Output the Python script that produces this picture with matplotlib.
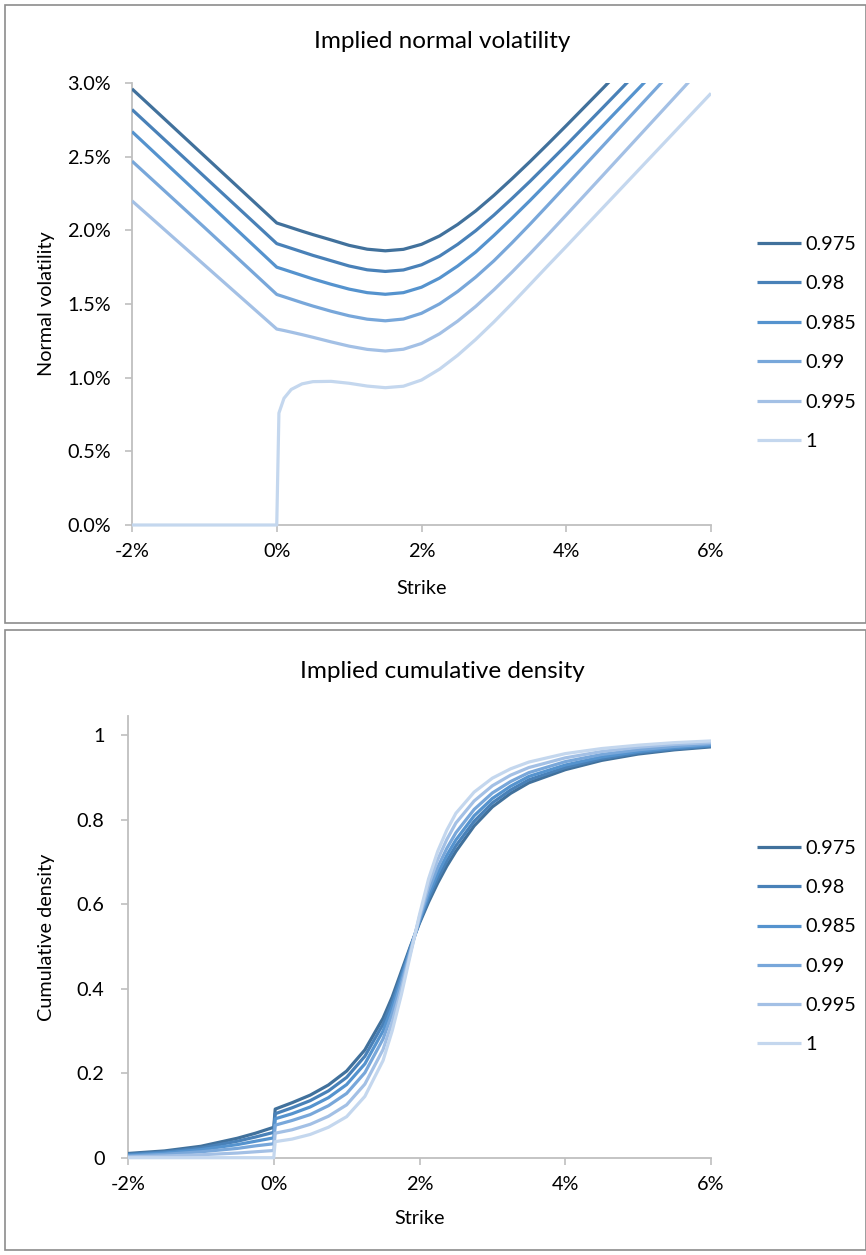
import matplotlib
matplotlib.use('Agg')
import matplotlib.pyplot as plt
from matplotlib.patches import Rectangle
from matplotlib.ticker import FuncFormatter, FixedLocator

plt.rcParams['font.family'] = ['Lato', 'DejaVu Sans']

# ---------------- data ----------------
shifts = ['0.975', '0.98', '0.985', '0.99', '0.995', '1']
colors = ['#41719C', '#4981B8', '#5593CE', '#78A7DA', '#A3C0E5', '#C4D7EE']

# strike (%) grid for the implied normal volatility chart
strikes_vol = [-2.0, -1.0, 0.0, 0.03, 0.1, 0.2, 0.35, 0.5, 0.75, 1.0, 1.25, 1.5, 1.75,
               2.0, 2.25, 2.5, 2.75, 3.0, 3.25, 3.5, 3.75, 4.0, 4.5, 5.0, 5.5, 6.0]

vol_0975 = [2.96, 2.505, 2.05, 2.045, 2.034, 2.018, 1.994, 1.971, 1.935, 1.898, 1.872, 1.861, 1.871,
            1.905, 1.962, 2.04, 2.132, 2.237, 2.35, 2.467, 2.588, 2.711, 2.961, 3.214, 3.467, 3.72]
vol_098 = [2.82, 2.365, 1.91, 1.905, 1.894, 1.878, 1.854, 1.83, 1.794, 1.758, 1.732, 1.721, 1.731,
           1.766, 1.825, 1.905, 1.998, 2.103, 2.216, 2.333, 2.455, 2.578, 2.83, 3.083, 3.336, 3.589]
vol_0985 = [2.67, 2.21, 1.75, 1.745, 1.734, 1.718, 1.694, 1.67, 1.634, 1.601, 1.577, 1.566, 1.577,
            1.614, 1.676, 1.758, 1.853, 1.965, 2.082, 2.203, 2.328, 2.454, 2.708, 2.963, 3.218, 3.473]
vol_099 = [2.47, 2.02, 1.565, 1.56, 1.549, 1.533, 1.509, 1.486, 1.451, 1.42, 1.397, 1.386, 1.398,
           1.437, 1.501, 1.585, 1.683, 1.793, 1.915, 2.042, 2.173, 2.305, 2.57, 2.835, 3.10, 3.365]
vol_0995 = [2.20, 1.765, 1.33, 1.327, 1.32, 1.309, 1.292, 1.274, 1.243, 1.214, 1.192, 1.181, 1.193,
            1.232, 1.298, 1.384, 1.484, 1.596, 1.716, 1.842, 1.972, 2.104, 2.37, 2.637, 2.904, 3.171]
vol_1 = [0.0, 0.0, 0.0, 0.76, 0.86, 0.92, 0.958, 0.973, 0.975, 0.962, 0.943, 0.932, 0.942,
         0.984, 1.058, 1.152, 1.26, 1.378, 1.503, 1.632, 1.762, 1.89, 2.15, 2.41, 2.67, 2.93]

# strike (%) grid for the implied cumulative density chart
strikes_cdf = [-2.0, -1.5, -1.0, -0.5, -0.25, 0.0, 0.02, 0.25, 0.5, 0.75, 1.0, 1.25, 1.5,
               1.625, 1.75, 1.875, 2.0, 2.125, 2.25, 2.375, 2.5, 2.75, 3.0, 3.25, 3.5,
               4.0, 4.5, 5.0, 5.5, 6.0]

cdf_0975 = [0.010, 0.016, 0.027, 0.046, 0.058, 0.072, 0.115, 0.130, 0.148, 0.172, 0.205, 0.255, 0.330,
            0.380, 0.440, 0.500, 0.555, 0.605, 0.650, 0.690, 0.725, 0.785, 0.830, 0.862, 0.887,
            0.918, 0.940, 0.955, 0.965, 0.972]
cdf_098 = [0.008, 0.0135, 0.023, 0.039, 0.049, 0.060, 0.104, 0.118, 0.135, 0.158, 0.190, 0.240, 0.316,
           0.369, 0.432, 0.497, 0.558, 0.613, 0.6605, 0.702, 0.738, 0.796, 0.8395, 0.870, 0.894,
           0.923, 0.944, 0.958, 0.967, 0.974]
cdf_0985 = [0.006, 0.011, 0.019, 0.031, 0.039, 0.047, 0.092, 0.104, 0.120, 0.142, 0.173, 0.222, 0.300,
            0.356, 0.4235, 0.494, 0.561, 0.6215, 0.6725, 0.7155, 0.752, 0.809, 0.850, 0.879, 0.902,
            0.929, 0.948, 0.961, 0.970, 0.976]
cdf_099 = [0.004, 0.008, 0.014, 0.022, 0.028, 0.033, 0.077, 0.088, 0.102, 0.123, 0.152, 0.201, 0.281,
           0.341, 0.413, 0.490, 0.565, 0.632, 0.687, 0.732, 0.769, 0.824, 0.863, 0.890, 0.911,
           0.937, 0.954, 0.965, 0.973, 0.979]
cdf_0995 = [0.002, 0.004, 0.007, 0.011, 0.014, 0.017, 0.058, 0.066, 0.079, 0.098, 0.125, 0.174, 0.256,
            0.321, 0.399, 0.485, 0.570, 0.646, 0.7055, 0.753, 0.792, 0.844, 0.880, 0.905, 0.923,
            0.946, 0.961, 0.971, 0.978, 0.982]
cdf_1 = [0.0, 0.0, 0.0, 0.0, 0.0, 0.0, 0.038, 0.044, 0.055, 0.072, 0.097, 0.145, 0.230,
         0.300, 0.385, 0.480, 0.575, 0.660, 0.725, 0.775, 0.815, 0.865, 0.898, 0.920, 0.936,
         0.956, 0.968, 0.976, 0.982, 0.986]

vol_series = [vol_0975, vol_098, vol_0985, vol_099, vol_0995, vol_1]
cdf_series = [cdf_0975, cdf_098, cdf_0985, cdf_099, cdf_0995, cdf_1]

x_ticks = [-2, 0, 2, 4, 6]
vol_ticks = [0.0, 0.5, 1.0, 1.5, 2.0, 2.5, 3.0]
cdf_ticks = [0.0, 0.2, 0.4, 0.6, 0.8, 1.0]

# ---------------- figure ----------------
W, H = 866, 1255
fig = plt.figure(figsize=(W / 100, H / 100), dpi=100)
fig.patch.set_facecolor('white')

def fx(px):
    return px / W

def fy(py):
    return 1 - py / H

# panel borders
for (y0, y1) in [(5, 623), (630, 1250)]:
    fig.patches.append(Rectangle((fx(4.5), fy(y1)), fx(865.5) - fx(4.5), fy(y0) - fy(y1),
                                 transform=fig.transFigure, fill=False,
                                 edgecolor='#8C8C8C', linewidth=1.2))

AXIS_COLOR = '#BFBFBF'
TXT = 14.3
TITLE = 17.5

def style_axes(ax, ypad):
    for s in ['top', 'right']:
        ax.spines[s].set_visible(False)
    for s in ['left', 'bottom']:
        ax.spines[s].set_color(AXIS_COLOR)
        ax.spines[s].set_linewidth(1.3)
        ax.spines[s].set_zorder(1)
    ax.tick_params(axis='both', direction='out', length=5, width=1.2, color=AXIS_COLOR,
                   labelsize=TXT, labelcolor='black')
    ax.tick_params(axis='y', pad=ypad)
    ax.tick_params(axis='x', pad=8)
    ax.set_facecolor('none')

# ---- top chart ----
ax1 = fig.add_axes([fx(132), fy(525), fx(711) - fx(132), fy(83) - fy(525)])
clip1 = Rectangle((0, -0.05), 1, 1.05, transform=ax1.transAxes, visible=False)
ax1.add_patch(clip1)
for vals, lab, c in zip(vol_series, shifts, colors):
    ln, = ax1.plot(strikes_vol, vals, color=c, lw=2.3, label=lab, zorder=3,
                   solid_joinstyle='round', solid_capstyle='butt')
    ln.set_clip_path(clip1)
ax1.set_xlim(-2, 6)
ax1.set_ylim(0, 3.0)
ax1.xaxis.set_major_locator(FixedLocator(x_ticks))
ax1.yaxis.set_major_locator(FixedLocator(vol_ticks))
ax1.xaxis.set_major_formatter(FuncFormatter(lambda v, p: f"{v:.0f}%"))
ax1.yaxis.set_major_formatter(FuncFormatter(lambda v, p: f"{v:.1f}%"))
style_axes(ax1, 10)
ax1.set_xlabel('Strike', fontsize=TXT)
ax1.set_ylabel('Normal volatility', fontsize=TXT)
ax1.xaxis.set_label_coords((421.5 - 132) / 579, (525 - 588) / 442)
ax1.xaxis.label.set_va('center')
ax1.yaxis.set_label_coords((47 - 132) / 579, 0.5)
ax1.yaxis.label.set_va('center')
fig.text(fx(442), fy(42), 'Implied normal volatility', ha='center', va='center', fontsize=TITLE)
ax1.legend(loc='center left', bbox_to_anchor=(fx(757), fy(343)), bbox_transform=fig.transFigure,
           frameon=False, fontsize=TXT, handlelength=2.2, handletextpad=0.25,
           labelspacing=1.13, borderpad=0, borderaxespad=0)

# ---- bottom chart ----
ax2 = fig.add_axes([fx(128), fy(1157.7), fx(711) - fx(128), fy(716) - fy(1157.7)])
clip2 = Rectangle((0, -0.05), 1, 1.05, transform=ax2.transAxes, visible=False)
ax2.add_patch(clip2)
for vals, lab, c in zip(cdf_series, shifts, colors):
    ln, = ax2.plot(strikes_cdf, vals, color=c, lw=2.3, label=lab, zorder=3,
                   solid_joinstyle='round', solid_capstyle='butt')
    ln.set_clip_path(clip2)
ax2.set_xlim(-2, 6)
ax2.set_ylim(0, 1.045)
ax2.xaxis.set_major_locator(FixedLocator(x_ticks))
ax2.yaxis.set_major_locator(FixedLocator(cdf_ticks))
ax2.xaxis.set_major_formatter(FuncFormatter(lambda v, p: f"{v:.0f}%"))
ax2.yaxis.set_major_formatter(FuncFormatter(lambda v, p: f"{v:g}"))
style_axes(ax2, 12)
ax2.set_xlabel('Strike', fontsize=TXT)
ax2.set_ylabel('Cumulative density', fontsize=TXT)
ax2.xaxis.set_label_coords((419.5 - 128) / 583, (1157.7 - 1219) / (1157.7 - 716))
ax2.xaxis.label.set_va('center')
ax2.yaxis.set_label_coords((47 - 128) / 583, 0.5)
ax2.yaxis.label.set_va('center')
fig.text(fx(442), fy(672), 'Implied cumulative density', ha='center', va='center', fontsize=TITLE)
ax2.legend(loc='center left', bbox_to_anchor=(fx(757), fy(946.5)), bbox_transform=fig.transFigure,
           frameon=False, fontsize=TXT, handlelength=2.2, handletextpad=0.25,
           labelspacing=1.11, borderpad=0, borderaxespad=0)

fig.savefig('out.png', dpi=100, facecolor='white')
